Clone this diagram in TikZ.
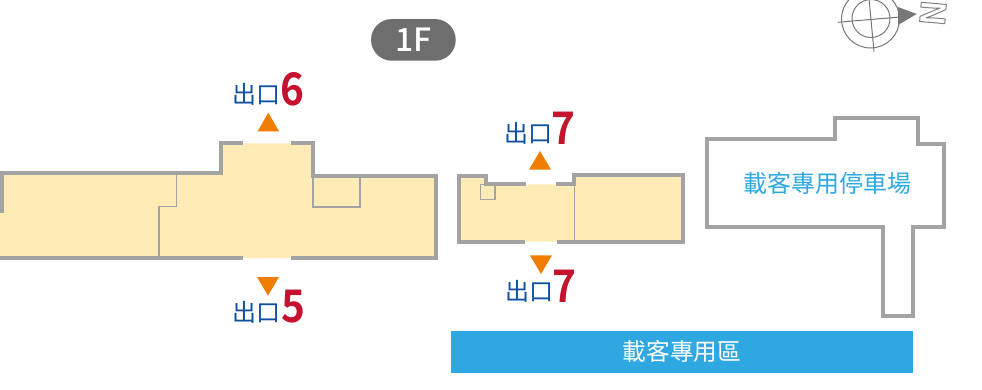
\documentclass[tikz,border=0pt]{standalone}
\usepackage{fontspec}
\setmainfont{Noto Sans}
\newfontfamily\cjk{Noto Sans CJK TC}
\newfontfamily\digitfont{Noto Sans CJK TC Bold}
\newfontfamily\pillfont{Noto Sans CJK TC Medium}
\definecolor{wallgray}{HTML}{A3A3A3}
\definecolor{roomfill}{HTML}{FEEBB5}
\definecolor{exitorange}{HTML}{F07D00}
\definecolor{exitblue}{HTML}{0F4FA0}
\definecolor{exitred}{HTML}{C4122F}
\definecolor{barblue}{HTML}{2FA8E1}
\definecolor{pillgray}{HTML}{6E6E6E}
\definecolor{compassgray}{HTML}{777777}
\tikzset{
  wall/.style={draw=wallgray,line width=4pt,line cap=butt,line join=miter},
  inner wall/.style={draw=wallgray,line width=1.1pt},
  room/.style={fill=roomfill,draw=none},
  exit arrow/.style={fill=exitorange,draw=none},
  exit word/.style={inner sep=0pt,text=exitblue,font=\cjk\fontsize{24}{24}\selectfont},
  exit num/.style={inner sep=0pt,xscale=0.9,text=exitred,font=\digitfont\fontsize{45}{45}\selectfont},
  compass/.style={draw=compassgray,line width=1pt}
}
\begin{document}
\begin{tikzpicture}[x=1pt,y=-1pt]
\useasboundingbox (0,0) rectangle (982,390);
% left building
\fill[room] (0,173) -- (221,173) -- (221,143.3) -- (313,143.3) -- (313,176) -- (436,176) -- (436,258) -- (0,258) -- cycle;
\draw[inner wall] (176.3,174) -- (176.3,206.3) -- (159,206.3) -- (159,258);
\draw[inner wall] (313,176) -- (313,207) -- (360,207) -- (360,176);
\draw[wall] (1.5,213) -- (1.5,173) -- (221,173) -- (221,143.3) -- (242.7,143.3);
\draw[wall] (291,143.3) -- (313,143.3) -- (313,176) -- (436,176) -- (436,258) -- (291,258);
\draw[wall] (242.7,258) -- (0,258);
% middle building
\fill[room] (459.3,176) -- (485.7,176) -- (485.7,184.5) -- (574.3,184.5) -- (574.3,175.5) -- (683,175.5) -- (683,241.7) -- (459.3,241.7) -- cycle;
\draw[inner wall] (574.7,184) -- (574.7,241.7);
\draw[inner wall] (480.3,184.7) rectangle (495,199.3);
\draw[wall] (525.7,184.5) -- (485.7,184.5) -- (485.7,176) -- (459.3,176) -- (459.3,241.7) -- (525,241.7);
\draw[wall] (556,184.5) -- (574.3,184.5) -- (574.3,175.5) -- (683,175.5) -- (683,241.7) -- (557,241.7);
% parking
\draw[wall] (706.7,139) -- (834.7,139) -- (834.7,117.7) -- (918,117.7) -- (918,143.7) -- (944,143.7) -- (944,226.7) -- (912.7,226.7) -- (912.7,316) -- (883.3,316) -- (883.3,226.7) -- (706.7,226.7) -- cycle;
\node[inner sep=0pt,text=barblue,font=\cjk\fontsize{24}{24}\selectfont] (parkinglabel) at (827,183) {載客專用停車場};
% arrows
\fill[exit arrow] (257.7,131.3) -- (279,131.3) -- (268.3,112.7) -- cycle;
\fill[exit arrow] (257,277) -- (279,277) -- (268,295.7) -- cycle;
\fill[exit arrow] (529,169.7) -- (551,169.7) -- (540,151) -- cycle;
\fill[exit arrow] (530,255.3) -- (552,255.3) -- (541,274) -- cycle;
% exit labels
\node[exit word] (w6) at (256,94.5) {出口};
\node[exit num] (n6) at (292,89) {6};
\node[exit word] (w5) at (256,312.5) {出口};
\node[exit num] (n5) at (293,307) {5};
\node[exit word] (w7a) at (528.3,133.5) {出口};
\node[exit num] (n7a) at (563.5,128) {7};
\node[exit word] (w7b) at (529.5,291.5) {出口};
\node[exit num] (n7b) at (564,286) {7};
% floor pill
\node[fill=pillgray,rounded corners=20.8pt,minimum width=84.7pt,minimum height=41.7pt,inner sep=0pt,text=white,font=\pillfont\fontsize{32}{32}\selectfont] (floor) at (413.4,39.9) {1F};
% blue bar
\node[fill=barblue,minimum width=461.7pt,minimum height=41.7pt,inner sep=0pt,text=white,font=\cjk\fontsize{23.7}{24}\selectfont] (bar) at (681.9,351.9) {載客專用區};
% compass
\draw[compass] (870.5,19) circle (29);
\draw[compass] (871,18.5) circle (19);
\draw[compass] (837.7,22.3) -- (900,17);
\draw[compass] (868,-12) -- (874,51.7);
\fill[compassgray] (898,7) -- (916.7,14) -- (898,25) -- cycle;
\node[inner sep=0pt,rotate=-95,font=\digitfont\fontsize{34}{34}\selectfont] (north) at (933,13) {\special{pdf:code q 1 Tr 1 w 0.5 G 1 g}N\special{pdf:code Q}};
\end{tikzpicture}
\end{document}
